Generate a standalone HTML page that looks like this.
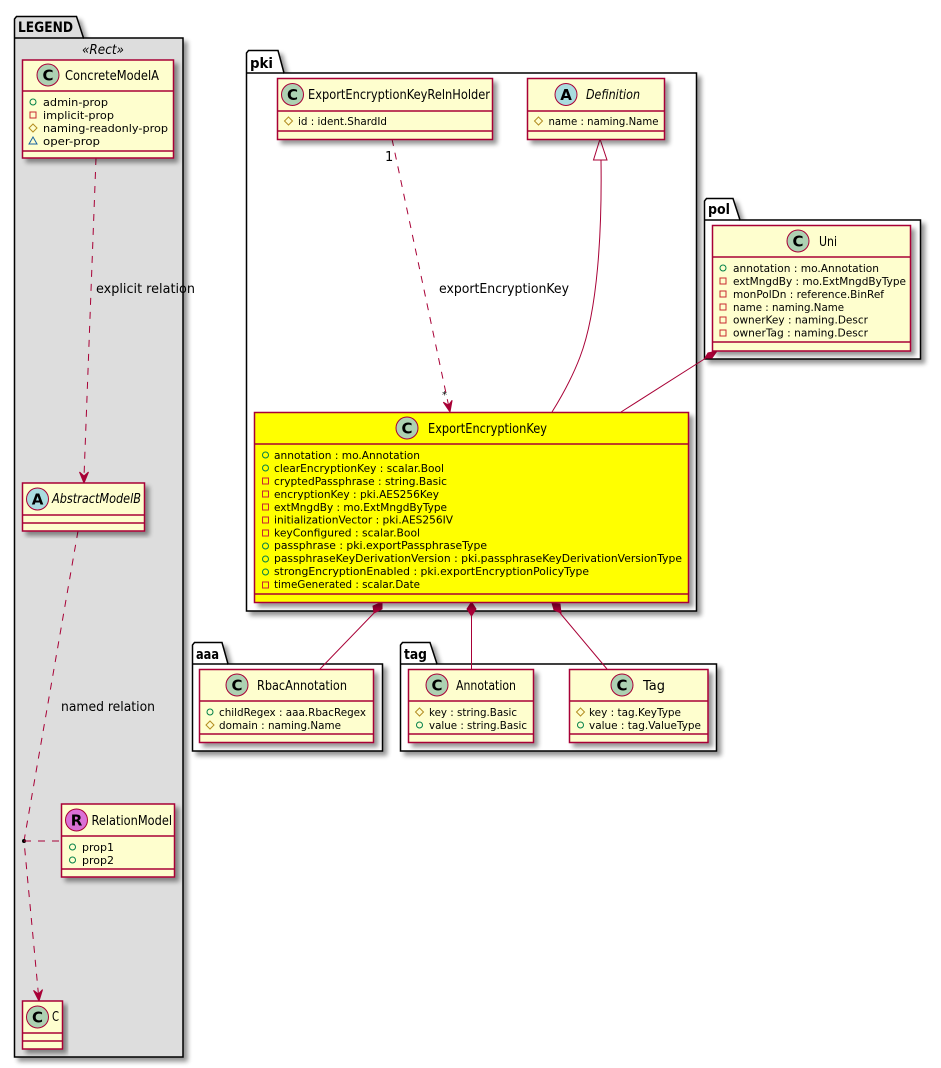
<!DOCTYPE html>
<html><head><meta charset="utf-8"><style>
html,body{margin:0;padding:0;background:#fff;width:941px;height:1068px;overflow:hidden}
svg{display:block}
text{font-family:"DejaVu Sans","Liberation Sans",sans-serif;fill:#000}
.f{font-size:11px}.n{font-size:13px}
.c{fill:#FEFECE;stroke:#A80036;stroke-width:1.5}
.l{stroke:#A80036;stroke-width:1.5;fill:none}
.e{stroke:#A80036;stroke-width:1;fill:none}
.d{stroke-dasharray:7,7}
.k{stroke:#000;stroke-width:1.5}
.b{font-size:14px;font-weight:bold}
.g{font-size:15px;font-weight:bold;text-anchor:middle}
.ci{stroke:#A80036;stroke-width:1}
.pu{fill:none;stroke:#038048}.pr{fill:none;stroke:#C82930}.pt{fill:none;stroke:#B38D22}.pk{fill:none;stroke:#1963A0}
</style></head><body>
<svg width="941" height="1068" viewBox="0 0 941 1068" xmlns="http://www.w3.org/2000/svg">
<defs>
<filter id="s" x="-10%" y="-10%" width="125%" height="125%"><feGaussianBlur in="SourceAlpha" stdDeviation="2.500"/><feOffset dx="4" dy="4"/><feComponentTransfer><feFuncA type="linear" slope=".42"/></feComponentTransfer><feMerge><feMergeNode/><feMergeNode in="SourceGraphic"/></feMerge></filter>
<polygon id="ar" points="0,0 -4.5,-11 0,-7 4.5,-11" fill="#A80036" stroke="#A80036"/>
<g id="pub"><circle r="3" class="pu"/></g>
<g id="pri"><rect x="-3" y="-3" width="6" height="6" class="pr"/></g>
<g id="pro"><polygon points="0,-4 4,0 0,4 -4,0" class="pt"/></g>
<g id="pkg"><polygon points="0,-4 4,3 -4,3" class="pk"/></g>
</defs>

<!-- packages -->
<g class="k">
<path d="M14.5 38V19l2-2.500h60l7 21.500h99.500v1019H14.500z" fill="#DDDDDD" filter="url(#s)"/><path d="M14.500 38H84" fill="none"/>
<path d="M246.500 73V53l2-2.500h29.500l6 22.500h412.500v538H246.500z" fill="#fff" filter="url(#s)"/><path d="M246.500 73H284" fill="none"/>
<path d="M704.500 220V201l2-2.500h26.500l7 21.500h180.500v139H704.500z" fill="#fff" filter="url(#s)"/><path d="M704.500 220H740" fill="none"/>
<path d="M192.500 664V645l2-2.500h27.500l6 21.500h154.500v87H192.500z" fill="#fff" filter="url(#s)"/><path d="M192.500 664H228" fill="none"/>
<path d="M400.500 664V645l2-2.500h27.500l7 21.500h279.500v87H400.500z" fill="#fff" filter="url(#s)"/><path d="M400.500 664H437" fill="none"/>
</g>
<text class="b" x="18" y="32" textLength="55" lengthAdjust="spacingAndGlyphs">LEGEND</text>
<text class="b" x="250" y="68" textLength="23" lengthAdjust="spacingAndGlyphs">pki</text>
<text class="b" x="708" y="214" textLength="22" lengthAdjust="spacingAndGlyphs">pol</text>
<text class="b" x="196" y="659" textLength="23" lengthAdjust="spacingAndGlyphs">aaa</text>
<text class="b" x="404" y="659" textLength="23" lengthAdjust="spacingAndGlyphs">tag</text>
<text x="82" y="54" font-size="13" font-style="italic" textLength="42" lengthAdjust="spacingAndGlyphs">«Rect»</text>

<!-- edges -->
<path class="e d" d="M96 158L84 477"/>
<use href="#ar" transform="translate(84 483)"/>
<path class="e d" d="M78 531L24 841L38.500 995"/>
<use href="#ar" transform="translate(39 1001) rotate(-5)"/>
<circle cx="24" cy="841" r="2" fill="#000"/>
<path class="e d" d="M24 841H61"/>
<path class="e d" d="M392 139L448.500 405"/>
<use href="#ar" transform="translate(450 412) rotate(-12)"/>
<polygon points="600,139 593.500,160 607,160" fill="#fff" stroke="#A80036"/>
<path class="e" d="M601 160C602 230 598 310 580 357C572 378 562 396 552 412"/>
<polygon points="717,351 712,358 705,358 708,353" fill="#A80036" stroke="#A80036"/>
<path class="e" d="M706 358L621 412"/>
<polygon points="382,602 382,609 374,613 373,606" fill="#A80036" stroke="#A80036"/>
<path class="e" d="M374 613L320 669"/>
<polygon points="471.500,602 476,609 471.500,616 467,609" fill="#A80036" stroke="#A80036"/>
<path class="e" d="M471.500 616V669"/>
<polygon points="552,603 560,604 561,613 554,610" fill="#A80036" stroke="#A80036"/>
<path class="e" d="M560 613L607 669"/>
<text class="n" x="96" y="293" textLength="99" lengthAdjust="spacingAndGlyphs">explicit relation</text>
<text class="n" x="61" y="711" textLength="94" lengthAdjust="spacingAndGlyphs">named relation</text>
<text class="n" x="439" y="293" textLength="130" lengthAdjust="spacingAndGlyphs">exportEncryptionKey</text>
<text class="n" x="385" y="161">1</text>
<text x="442" y="398" font-size="10">*</text>

<!-- ConcreteModelA -->
<g filter="url(#s)"><rect class="c" x="22.500" y="60" width="151" height="98"/></g>
<path class="l" d="M22.500 91H173.500M22.500 151H173.500"/>
<circle class="ci" cx="48" cy="75" r="11" fill="#ADD1B2"/><text class="g" x="48" y="80.500">C</text>
<text class="n" x="65" y="80" textLength="94" lengthAdjust="spacingAndGlyphs">ConcreteModelA</text>
<use href="#pub" x="33" y="102"/><use href="#pri" x="33" y="115"/><use href="#pro" x="33" y="128"/><use href="#pkg" x="33" y="141"/>
<text class="f" x="43" y="106" textLength="65" lengthAdjust="spacingAndGlyphs">admin-prop</text>
<text class="f" x="43" y="119" textLength="71" lengthAdjust="spacingAndGlyphs">implicit-prop</text>
<text class="f" x="43" y="132" textLength="125" lengthAdjust="spacingAndGlyphs">naming-readonly-prop</text>
<text class="f" x="43" y="145" textLength="57" lengthAdjust="spacingAndGlyphs">oper-prop</text>

<!-- AbstractModelB -->
<g filter="url(#s)"><rect class="c" x="22.500" y="483" width="122" height="48"/></g>
<path class="l" d="M22.500 515H144.500M22.500 523H144.500"/>
<circle class="ci" cx="37.500" cy="499" r="11" fill="#A9DCDF"/><text class="g" x="37.500" y="504.500">A</text>
<text class="n" font-style="italic" x="52" y="503" textLength="89" lengthAdjust="spacingAndGlyphs">AbstractModelB</text>

<!-- RelationModel -->
<g filter="url(#s)"><rect class="c" x="61.500" y="804" width="113" height="73"/></g>
<path class="l" d="M61.500 836H174.500M61.500 869H174.500"/>
<circle class="ci" cx="76.500" cy="820" r="11" fill="#DA70D6"/><text class="g" x="76.500" y="825.500">R</text>
<text class="n" x="91.500" y="825" textLength="80.500" lengthAdjust="spacingAndGlyphs">RelationModel</text>
<use href="#pub" x="72.500" y="847"/><use href="#pub" x="72.500" y="860"/>
<text class="f" x="82" y="851" textLength="32" lengthAdjust="spacingAndGlyphs">prop1</text>
<text class="f" x="82" y="864" textLength="32" lengthAdjust="spacingAndGlyphs">prop2</text>

<!-- C -->
<g filter="url(#s)"><rect class="c" x="22.500" y="1001" width="40" height="48"/></g>
<path class="l" d="M22.500 1033H62.500M22.500 1041H62.500"/>
<circle class="ci" cx="37.500" cy="1017" r="11" fill="#ADD1B2"/><text class="g" x="37.500" y="1022.500">C</text>
<text class="n" x="52" y="1021" textLength="7" lengthAdjust="spacingAndGlyphs">C</text>

<!-- Holder -->
<g filter="url(#s)"><rect class="c" x="277.500" y="78.500" width="215" height="61"/></g>
<path class="l" d="M277.500 111H492.500M277.500 131H492.500"/>
<circle class="ci" cx="292.500" cy="94.500" r="11" fill="#ADD1B2"/><text class="g" x="292.500" y="100">C</text>
<text class="n" x="308" y="99" textLength="182" lengthAdjust="spacingAndGlyphs">ExportEncryptionKeyRelnHolder</text>
<use href="#pro" x="288.500" y="121"/>
<text class="f" x="298" y="125" textLength="89" lengthAdjust="spacingAndGlyphs">id : ident.ShardId</text>

<!-- Definition -->
<g filter="url(#s)"><rect class="c" x="527.500" y="78.500" width="137" height="61"/></g>
<path class="l" d="M527.500 111H664.500M527.500 131H664.500"/>
<circle class="ci" cx="566" cy="94.500" r="11" fill="#A9DCDF"/><text class="g" x="566" y="100">A</text>
<text class="n" font-style="italic" x="586" y="99" textLength="54" lengthAdjust="spacingAndGlyphs">Definition</text>
<use href="#pro" x="538.500" y="121"/>
<text class="f" x="548.500" y="125" textLength="110" lengthAdjust="spacingAndGlyphs">name : naming.Name</text>

<!-- Uni -->
<g filter="url(#s)"><rect class="c" x="712.500" y="225.500" width="198" height="125.500"/></g>
<path class="l" d="M712.500 257H910.500M712.500 342H910.500"/>
<circle class="ci" cx="798" cy="241" r="11" fill="#ADD1B2"/><text class="g" x="798" y="246.500">C</text>
<text class="n" x="819" y="246" textLength="18" lengthAdjust="spacingAndGlyphs">Uni</text>
<use href="#pub" x="723" y="268"/><use href="#pri" x="723" y="281"/><use href="#pri" x="723" y="294"/><use href="#pri" x="723" y="307"/><use href="#pri" x="723" y="320"/><use href="#pri" x="723" y="333"/>
<text class="f" x="733" y="272" textLength="146" lengthAdjust="spacingAndGlyphs">annotation : mo.Annotation</text>
<text class="f" x="733" y="285" textLength="173" lengthAdjust="spacingAndGlyphs">extMngdBy : mo.ExtMngdByType</text>
<text class="f" x="733" y="298" textLength="151" lengthAdjust="spacingAndGlyphs">monPolDn : reference.BinRef</text>
<text class="f" x="733" y="311" textLength="111" lengthAdjust="spacingAndGlyphs">name : naming.Name</text>
<text class="f" x="733" y="323.500" textLength="135" lengthAdjust="spacingAndGlyphs">ownerKey : naming.Descr</text>
<text class="f" x="733" y="336.500" textLength="135" lengthAdjust="spacingAndGlyphs">ownerTag : naming.Descr</text>

<!-- ExportEncryptionKey -->
<g filter="url(#s)"><rect x="254.500" y="412.500" width="434" height="190" fill="#FFFF00" stroke="#A80036" stroke-width="1.500"/></g>
<path class="l" d="M254.500 444H688.500M254.500 594H688.500"/>
<circle class="ci" cx="407" cy="428" r="11" fill="#ADD1B2"/><text class="g" x="407" y="433.500">C</text>
<text class="n" x="428" y="433" textLength="119" lengthAdjust="spacingAndGlyphs">ExportEncryptionKey</text>
<use href="#pub" x="265.500" y="455"/><use href="#pub" x="265.500" y="468"/><use href="#pri" x="265.500" y="481"/><use href="#pri" x="265.500" y="494"/><use href="#pri" x="265.500" y="507"/><use href="#pri" x="265.500" y="520"/><use href="#pri" x="265.500" y="533"/><use href="#pub" x="265.500" y="546"/><use href="#pub" x="265.500" y="559"/><use href="#pub" x="265.500" y="572"/><use href="#pri" x="265.500" y="585"/>
<text class="f" x="274" y="459" textLength="146" lengthAdjust="spacingAndGlyphs">annotation : mo.Annotation</text>
<text class="f" x="274" y="472" textLength="170" lengthAdjust="spacingAndGlyphs">clearEncryptionKey : scalar.Bool</text>
<text class="f" x="274" y="485" textLength="173" lengthAdjust="spacingAndGlyphs">cryptedPassphrase : string.Basic</text>
<text class="f" x="274" y="498" textLength="165" lengthAdjust="spacingAndGlyphs">encryptionKey : pki.AES256Key</text>
<text class="f" x="274" y="511" textLength="173" lengthAdjust="spacingAndGlyphs">extMngdBy : mo.ExtMngdByType</text>
<text class="f" x="274" y="523.500" textLength="179" lengthAdjust="spacingAndGlyphs">initializationVector : pki.AES256IV</text>
<text class="f" x="274" y="536.500" textLength="146" lengthAdjust="spacingAndGlyphs">keyConfigured : scalar.Bool</text>
<text class="f" x="274" y="549" textLength="213" lengthAdjust="spacingAndGlyphs">passphrase : pki.exportPassphraseType</text>
<text class="f" x="274" y="562" textLength="408" lengthAdjust="spacingAndGlyphs">passphraseKeyDerivationVersion : pki.passphraseKeyDerivationVersionType</text>
<text class="f" x="274" y="575" textLength="315" lengthAdjust="spacingAndGlyphs">strongEncryptionEnabled : pki.exportEncryptionPolicyType</text>
<text class="f" x="274" y="588" textLength="146" lengthAdjust="spacingAndGlyphs">timeGenerated : scalar.Date</text>

<!-- RbacAnnotation -->
<g filter="url(#s)"><rect class="c" x="199.500" y="669.500" width="174" height="73"/></g>
<path class="l" d="M199.500 701H373.500M199.500 734H373.500"/>
<circle class="ci" cx="237" cy="685" r="11" fill="#ADD1B2"/><text class="g" x="237" y="690.500">C</text>
<text class="n" x="257" y="690" textLength="90" lengthAdjust="spacingAndGlyphs">RbacAnnotation</text>
<use href="#pub" x="210" y="712"/><use href="#pro" x="210" y="725"/>
<text class="f" x="219" y="716" textLength="147" lengthAdjust="spacingAndGlyphs">childRegex : aaa.RbacRegex</text>
<text class="f" x="219" y="729" textLength="122" lengthAdjust="spacingAndGlyphs">domain : naming.Name</text>

<!-- Annotation -->
<g filter="url(#s)"><rect class="c" x="408.500" y="669.500" width="125" height="73"/></g>
<path class="l" d="M408.500 701H533.500M408.500 734H533.500"/>
<circle class="ci" cx="437" cy="685" r="11" fill="#ADD1B2"/><text class="g" x="437" y="690.500">C</text>
<text class="n" x="456" y="690" textLength="60" lengthAdjust="spacingAndGlyphs">Annotation</text>
<use href="#pro" x="419.500" y="712"/><use href="#pub" x="419.500" y="725"/>
<text class="f" x="429" y="716" textLength="88" lengthAdjust="spacingAndGlyphs">key : string.Basic</text>
<text class="f" x="429" y="729" textLength="98" lengthAdjust="spacingAndGlyphs">value : string.Basic</text>

<!-- Tag -->
<g filter="url(#s)"><rect class="c" x="569.500" y="669.500" width="138.500" height="73"/></g>
<path class="l" d="M569.500 701H708M569.500 734H708"/>
<circle class="ci" cx="622" cy="685" r="11" fill="#ADD1B2"/><text class="g" x="622" y="690.500">C</text>
<text class="n" x="643" y="690" textLength="22" lengthAdjust="spacingAndGlyphs">Tag</text>
<use href="#pro" x="580.500" y="712"/><use href="#pub" x="580.500" y="725"/>
<text class="f" x="589" y="716" textLength="92" lengthAdjust="spacingAndGlyphs">key : tag.KeyType</text>
<text class="f" x="589" y="729" textLength="112" lengthAdjust="spacingAndGlyphs">value : tag.ValueType</text>
</svg>
</body></html>
